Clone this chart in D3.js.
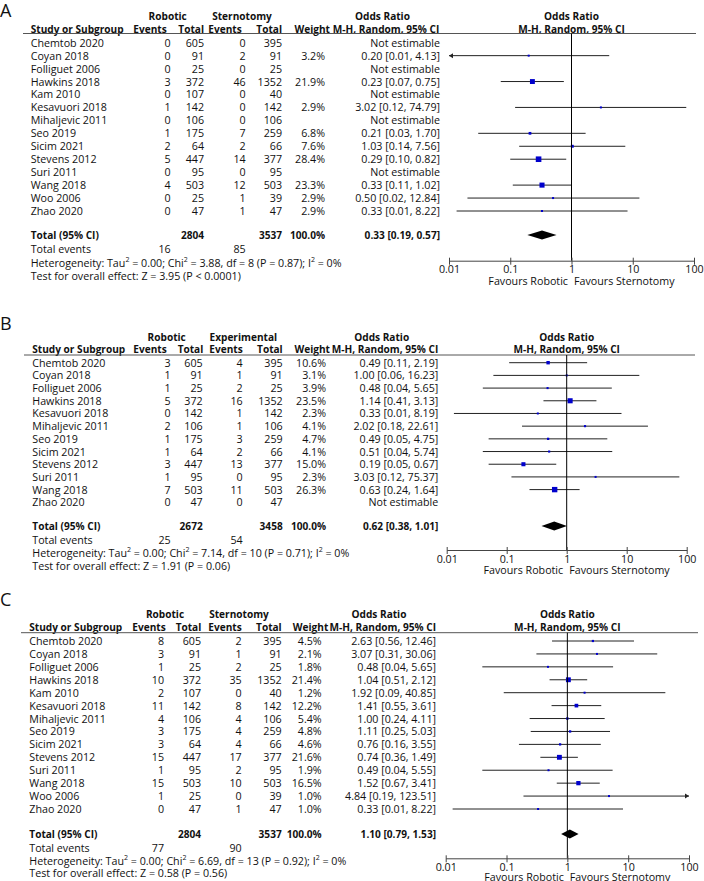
<!DOCTYPE html>
<html>
<head>
<meta charset="utf-8">
<script src="https://cdnjs.cloudflare.com/ajax/libs/d3/7.8.5/d3.min.js"></script>
<style>
  body { margin: 0; background: #fff; }
  svg text { font-family: "Open Sans", "DejaVu Sans", sans-serif; font-size: 10.7px; fill: #111; }
  svg text.letter { font-size: 18px; }
  svg text.b { font-weight: bold; font-size: 10.1px; }
</style>
</head>
<body>
<div id="chart"></div>
<script>
// ---- panel A (Robotic vs Sternotomy) ----
var studiesA = ["Chemtob 2020","Coyan 2018","Folliguet 2006","Hawkins 2018","Kam 2010","Kesavuori 2018","Mihaljevic 2011","Seo 2019","Sicim 2021","Stevens 2012","Suri 2011","Wang 2018","Woo 2006","Zhao 2020"];
var robEventsA = [0,0,0,3,0,1,0,1,2,5,0,4,0,0];
var robTotalA  = [605,91,25,372,107,142,106,175,64,447,95,503,25,47];
var ctlEventsA = [0,2,0,46,0,0,0,7,2,14,0,12,1,1];
var ctlTotalA  = [395,91,25,1352,40,142,106,259,66,377,95,503,39,47];
var weightA = [null,3.2,null,21.9,null,2.9,null,6.8,7.6,28.4,null,23.3,2.9,2.9];
var orA = [null,0.20,null,0.23,null,3.02,null,0.21,1.03,0.29,null,0.33,0.50,0.33];
var loA = [null,0.0094,null,0.07,null,0.12,null,0.03,0.14,0.10,null,0.11,0.02,0.0133];
var hiA = [null,4.13,null,0.75,null,74.79,null,1.70,7.56,0.82,null,1.02,12.84,8.22];
var pooledA = [0.33,0.19,0.57];
var hetA = "Heterogeneity: Tau² = 0.00; Chi² = 3.88, df = 8 (P = 0.87); I² = 0%";
var testA = "Test for overall effect: Z = 3.95 (P < 0.0001)";

// ---- panel B (Robotic vs Experimental) ----
var studiesB = ["Chemtob 2020","Coyan 2018","Folliguet 2006","Hawkins 2018","Kesavuori 2018","Mihaljevic 2011","Seo 2019","Sicim 2021","Stevens 2012","Suri 2011","Wang 2018","Zhao 2020"];
var robEventsB = [3,1,1,5,0,2,1,1,3,1,7,0];
var robTotalB  = [605,91,25,372,142,106,175,64,447,95,503,47];
var ctlEventsB = [4,1,2,16,1,1,3,2,13,0,11,0];
var ctlTotalB  = [395,91,25,1352,142,106,259,66,377,95,503,47];
var weightB = [10.6,3.1,3.9,23.5,2.3,4.1,4.7,4.1,15.0,2.3,26.3,null];
var orB = [0.49,1.00,0.48,1.14,0.33,2.02,0.49,0.51,0.19,3.03,0.63,null];
var loB = [0.11,0.06,0.04,0.41,0.0132,0.18,0.05,0.04,0.05,0.12,0.24,null];
var hiB = [2.19,16.23,5.65,3.13,8.19,22.61,4.75,5.74,0.67,75.37,1.64,null];
var pooledB = [0.62,0.38,1.01];
var hetB = "Heterogeneity: Tau² = 0.00; Chi² = 7.14, df = 10 (P = 0.71); I² = 0%";
var testB = "Test for overall effect: Z = 1.91 (P = 0.06)";

// ---- panel C (Robotic vs Sternotomy) ----
var studiesC = ["Chemtob 2020","Coyan 2018","Folliguet 2006","Hawkins 2018","Kam 2010","Kesavuori 2018","Mihaljevic 2011","Seo 2019","Sicim 2021","Stevens 2012","Suri 2011","Wang 2018","Woo 2006","Zhao 2020"];
var robEventsC = [8,3,1,10,2,11,4,3,3,15,1,15,1,0];
var robTotalC  = [605,91,25,372,107,142,106,175,64,447,95,503,25,47];
var ctlEventsC = [2,1,2,35,0,8,4,4,4,17,2,10,0,1];
var ctlTotalC  = [395,91,25,1352,40,142,106,259,66,377,95,503,39,47];
var weightC = [4.5,2.1,1.8,21.4,1.2,12.2,5.4,4.8,4.6,21.6,1.9,16.5,1.0,1.0];
var orC = [2.63,3.07,0.48,1.04,1.92,1.41,1.00,1.11,0.76,0.74,0.49,1.52,4.84,0.33];
var loC = [0.56,0.31,0.04,0.51,0.09,0.55,0.24,0.25,0.16,0.36,0.04,0.67,0.19,0.013];
var hiC = [12.46,30.06,5.65,2.12,40.85,3.61,4.11,5.03,3.55,1.49,5.55,3.41,123.51,8.22];
var pooledC = [1.10,0.79,1.53];
var hetC = "Heterogeneity: Tau² = 0.00; Chi² = 6.69, df = 13 (P = 0.92); I² = 0%";
var testC = "Test for overall effect: Z = 0.58 (P = 0.56)";

var tickValues = [0.01, 0.1, 1, 10, 100];
var tickLabels = ["0.01", "0.1", "1", "10", "100"];

var panels = [
  {letter:"A", groups:["Robotic","Sternotomy"], studies:studiesA, rE:robEventsA, rT:robTotalA, cE:ctlEventsA, cT:ctlTotalA,
   w:weightA, or:orA, lo:loA, hi:hiA, pooled:pooledA, het:hetA, test:testA},
  {letter:"B", groups:["Robotic","Experimental"], studies:studiesB, rE:robEventsB, rT:robTotalB, cE:ctlEventsB, cT:ctlTotalB,
   w:weightB, or:orB, lo:loB, hi:hiB, pooled:pooledB, het:hetB, test:testB},
  {letter:"C", groups:["Robotic","Sternotomy"], studies:studiesC, rE:robEventsC, rT:robTotalC, cE:ctlEventsC, cT:ctlTotalC,
   w:weightC, or:orC, lo:loC, hi:hiC, pooled:pooledC, het:hetC, test:testC}
];

// layout (pixel positions) of each panel
var layouts = [
  {letterY:9.5, grpY:16, hdrY:29, ruleY:33.5, ruleX0:23, ruleX1:696, row0:42.7, rowN:211, totalY:235, eventsY:249.3,
   hetY:262.7, testY:276, axisY:260.7, x0:449, x1:694, favY:280.7,
   study:30.7, ev:170.7, tot:204, cev:245.7, ctot:282, w:325, or:440,
   hEv:166.7, hTot:204, hCev:241.7, hCtot:282, hW:330, hOr:439.3, grp1:167.7, grp2:242, orHdr:382.5},
  {letterY:323.3, grpY:336.7, hdrY:349, ruleY:355, ruleX0:24, ruleX1:695, row0:362.7, rowN:502.3, totalY:526, eventsY:540,
   hetY:553.3, testY:566, axisY:550, x0:446.7, x1:686.7, favY:570,
   study:32.3, ev:170.7, tot:202.7, cev:242.7, ctot:282.7, w:326, or:438.3,
   hEv:166.7, hTot:203.3, hCev:242.7, hCtot:282.7, hW:330, hOr:438.3, grp1:166.7, grp2:243.3, orHdr:381.7},
  {letterY:598.5, grpY:614.3, hdrY:626.7, ruleY:632.7, ruleX0:21, ruleX1:698, row0:641, rowN:809, totalY:834, eventsY:848,
   hetY:860.7, testY:873.3, axisY:858.3, x0:445.7, x1:689, favY:876.7,
   study:29.3, ev:164, tot:201, cev:241.7, ctot:281.7, w:321.7, or:436,
   hEv:165.7, hTot:201.3, hCev:241.7, hCtot:281.7, hW:328.3, hOr:436, grp1:165, grp2:239, orHdr:379}
];

var svg = d3.select("#chart").append("svg")
    .attr("width", 704)
    .attr("height", 881);

function txt(g, x, y, s, anchor, bold) {
  return g.append("text")
      .attr("class", bold ? "b" : null)
      .attr("x", x)
      .attr("y", y)
      .attr("dominant-baseline", "central")
      .attr("text-anchor", anchor || "start")
      .text(s);
}

function fmt(v) { return v.toFixed(2); }

function drawPanel(p, L) {
  var g = svg.append("g");
  var x = d3.scaleLog().domain([0.01, 100]).range([L.x0, L.x1]);
  var y = d3.scalePoint().domain(p.studies).range([L.row0, L.rowN]);
  var x1 = x(1);

  txt(g, 0, L.letterY, p.letter, "start").attr("class", "letter");

  // header rows
  txt(g, L.grp1, L.grpY, p.groups[0], "middle", true);
  txt(g, L.grp2, L.grpY, p.groups[1], "middle", true);
  txt(g, L.orHdr, L.grpY, "Odds Ratio", "middle", true);
  txt(g, x1, L.grpY, "Odds Ratio", "middle", true);
  txt(g, L.study, L.hdrY, "Study or Subgroup", "start", true);
  txt(g, L.hEv, L.hdrY, "Events", "end", true);
  txt(g, L.hTot, L.hdrY, "Total", "end", true);
  txt(g, L.hCev, L.hdrY, "Events", "end", true);
  txt(g, L.hCtot, L.hdrY, "Total", "end", true);
  txt(g, L.hW, L.hdrY, "Weight", "end", true);
  txt(g, L.hOr, L.hdrY, "M-H, Random, 95% CI", "end", true);
  txt(g, x1, L.hdrY, "M-H, Random, 95% CI", "middle", true);

  g.append("line")
      .attr("x1", L.ruleX0).attr("x2", L.ruleX1)
      .attr("y1", L.ruleY).attr("y2", L.ruleY)
      .attr("stroke", "#555").attr("stroke-width", 1);

  // study rows
  p.studies.forEach(function(s, i) {
    var yy = y(s);
    txt(g, L.study, yy, s);
    txt(g, L.ev, yy, p.rE[i], "end");
    txt(g, L.tot, yy, p.rT[i], "end");
    txt(g, L.cev, yy, p.cE[i], "end");
    txt(g, L.ctot, yy, p.cT[i], "end");
    if (p.or[i] == null) {
      txt(g, L.or, yy, "Not estimable", "end");
      return;
    }
    txt(g, L.w, yy, p.w[i].toFixed(1) + "%", "end");
    txt(g, L.or, yy, fmt(p.or[i]) + " [" + fmt(p.lo[i]) + ", " + fmt(p.hi[i]) + "]", "end");

    var lo = Math.max(p.lo[i], 0.01), hi = Math.min(p.hi[i], 100);
    g.append("line")
        .attr("x1", x(lo)).attr("x2", x(hi))
        .attr("y1", yy).attr("y2", yy)
        .attr("stroke", "#222").attr("stroke-width", 1);
    // arrows when the CI runs off the scale
    if (p.lo[i] < 0.01) {
      g.append("path")
          .attr("d", "M" + x(0.01) + "," + yy + "l4,-2.5v5z")
          .attr("fill", "#222");
    }
    if (p.hi[i] > 100) {
      g.append("path")
          .attr("d", "M" + x(100) + "," + yy + "l-4,-2.5v5z")
          .attr("fill", "#222");
    }
    var sz = Math.max(2, Math.sqrt(p.w[i]) * 1.05);
    g.append("rect")
        .attr("x", x(p.or[i]) - sz / 2)
        .attr("y", yy - sz / 2)
        .attr("width", sz)
        .attr("height", sz)
        .attr("fill", "#0000cc");
  });

  // total rows
  txt(g, L.study, L.totalY, "Total (95% CI)", "start", true);
  txt(g, L.tot, L.totalY, d3.sum(p.rT), "end", true);
  txt(g, L.ctot, L.totalY, d3.sum(p.cT), "end", true);
  txt(g, L.w, L.totalY, "100.0%", "end", true);
  txt(g, L.or, L.totalY, fmt(p.pooled[0]) + " [" + fmt(p.pooled[1]) + ", " + fmt(p.pooled[2]) + "]", "end", true);
  txt(g, L.study, L.eventsY, "Total events");
  txt(g, L.ev, L.eventsY, d3.sum(p.rE), "end");
  txt(g, L.cev, L.eventsY, d3.sum(p.cE), "end");

  // heterogeneity line with superscript 2s
  var het = g.append("text")
      .attr("x", L.study).attr("y", L.hetY)
      .attr("dominant-baseline", "central");
  var parts = p.het.split("²");
  parts.forEach(function(part, k) {
    het.append("tspan").attr("dy", k > 0 ? 4 : null).text(part);
    if (k < parts.length - 1)
      het.append("tspan").attr("dy", -4).style("font-size", "7px").text("2");
  });
  txt(g, L.study, L.testY, p.test);

  // diamond for pooled estimate
  var dh = 4.5;
  g.append("path")
      .attr("d", "M" + x(p.pooled[1]) + "," + L.totalY +
                 "L" + x(p.pooled[0]) + "," + (L.totalY - dh) +
                 "L" + x(p.pooled[2]) + "," + L.totalY +
                 "L" + x(p.pooled[0]) + "," + (L.totalY + dh) + "Z")
      .attr("fill", "#000");

  // line of no effect
  g.append("line")
      .attr("x1", x1).attr("x2", x1)
      .attr("y1", L.ruleY).attr("y2", L.axisY)
      .attr("stroke", "#000").attr("stroke-width", 1);

  var axis = g.append("g")
      .attr("transform", "translate(0," + L.axisY + ")")
      .call(d3.axisBottom(x)
        .tickValues(tickValues)
        .tickFormat(function(d, i) { return tickLabels[i]; })
        .tickSize(4).tickSizeOuter(0).tickPadding(1));
  axis.attr("font-family", null).attr("font-size", null);
  axis.select(".domain").attr("stroke", "#444");
  axis.selectAll(".tick line").attr("y1", -3).attr("stroke", "#444");

  txt(g, x1 - 3.5, L.favY, "Favours Robotic", "end");
  txt(g, x1 + 2.5, L.favY, "Favours Sternotomy", "start");
}

panels.forEach(function(p, i) { drawPanel(p, layouts[i]); });
</script>
</body>
</html>
